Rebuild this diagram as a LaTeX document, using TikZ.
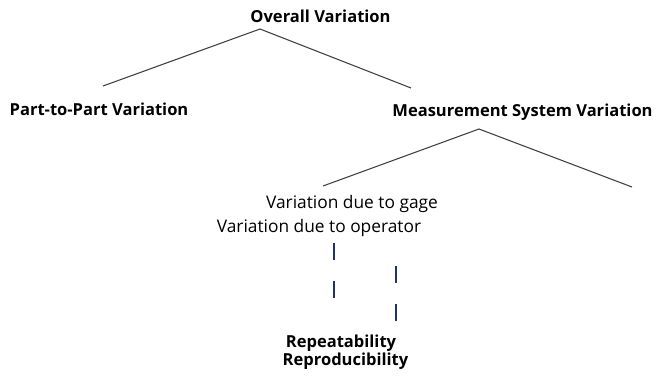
\documentclass[tikz,border=0pt]{standalone}
\usepackage{fontspec}
\setmainfont{Open Sans}
\usepackage{tikz}
\usetikzlibrary{calc}
\definecolor{navy}{RGB}{30,50,110}
\begin{document}
\begin{tikzpicture}[x=0.75pt,y=-0.75pt,
      every node/.style={anchor=base,inner sep=0pt},
      head/.style={font=\fontsize{12.4}{15}\selectfont\bfseries},
      plain/.style={font=\fontsize{13}{15}\selectfont},
      branch/.style={draw=black!75,line width=0.8pt},
      tick/.style={draw=navy,line width=0.9pt,dash pattern=on 12.5pt off 16pt}]
  \useasboundingbox (0,0) rectangle (668,376);
      \node[head] (overall) at (320.5,22) {Overall Variation};
      \node[head] (part) at (99,115) {Part-to-Part Variation};
      \node[head] (meas) at (522.5,116) {Measurement System Variation};
      \node[plain] (gage) at (352,208) {Variation due to gage};
      \node[plain] (oper) at (319,232) {Variation due to operator};
      \node[head] (rep) at (341,347) {Repeatability};
      \node[head] (repro) at (345.5,365) {Reproducibility};
  % tree branches
      \coordinate (top) at (260,29);
      \coordinate (topl) at (103,86);
      \coordinate (topr) at (411,88);
      \coordinate (msv) at (479,129);
      \coordinate (msvl) at (323,186);
      \coordinate (msvr) at (632,187);
      \draw[branch] (topl) -- (top) -- (topr);
      \draw[branch] (msvl) -- (msv) -- (msvr);
  % dashed links
      \coordinate (gl) at (334,243);
      \coordinate (gl') at (334,298);
      \coordinate (gr) at (396,266);
      \coordinate (gr') at (396,322);
      \draw[tick] (gl) -- (gl');
      \draw[tick] (gr) -- (gr');
\end{tikzpicture}
\end{document}
